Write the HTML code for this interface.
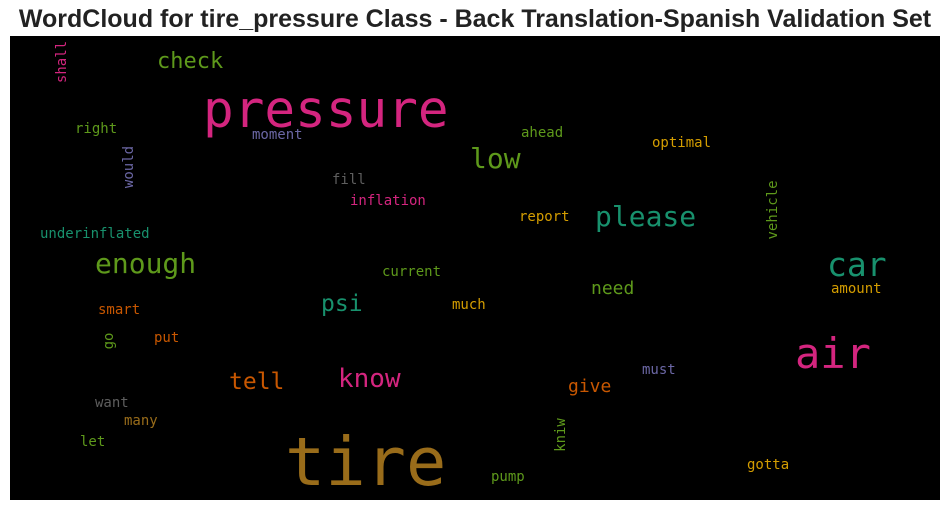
<!DOCTYPE html>
<html><head><meta charset="utf-8"><style>
html,body{margin:0;padding:0;background:#fff;width:950px;height:511px;overflow:hidden}
svg{display:block}
text.w{font-family:"DejaVu Sans Mono","Liberation Mono",monospace}
</style></head><body>
<svg width="950" height="511">
<text x="475" y="27" text-anchor="middle" font-family="Liberation Sans, sans-serif" font-weight="bold" font-size="25" fill="#222">WordCloud for tire_pressure Class - Back Translation-Spanish Validation Set</text>
<rect x="10" y="36" width="930" height="464" fill="#000"/>
<g id="words" opacity="0.92"></g>
</svg>
<script>
const words=["pressure","tire","air","car","please","low","enough","check","know","tell","psi","need","give","right","moment","fill","inflation","report","ahead","optimal","underinflated","current","much","amount","smart","put","must","want","many","let","pump","gotta","shall","would","vehicle","go","kniw"];
const sizes=[51,67,42,33,28,28,28,22,26,23,23,18,18,14,14,14,14,14,14,14,14,14,14,14,14,14,14,14,14,14,14,14,14,14,14,14,14];
const colors=["#e7298a","#a6761d","#e7298a","#1b9e77","#1b9e77","#66a61e","#66a61e","#66a61e","#e7298a","#d95f02","#1b9e77","#66a61e","#d95f02","#66a61e","#7570b3","#666666","#e7298a","#e6ab02","#66a61e","#e6ab02","#1b9e77","#66a61e","#e6ab02","#e6ab02","#d95f02","#d95f02","#7570b3","#666666","#a6761d","#66a61e","#66a61e","#e6ab02","#e7298a","#7570b3","#66a61e","#66a61e","#66a61e"];
const xs=[203,285,795,827,595,470,95,157,338,229,321,591,568,75,252,332,350,519,521,652,40,382,452,831,98,154,642,95,124,80,491,747,66,133,777,113,565];
const ys=[127,485,368,276,226,168,273,68,387,389,311,294,392,133,139,184,205,221,137,147,238,276,309,293,314,342,374,407,425,446,481,469,62,167,210,341,435];
const rot=[0,0,0,0,0,0,0,0,0,0,0,0,0,0,0,0,0,0,0,0,0,0,0,0,0,0,0,0,0,0,0,0,1,1,1,1,1];
const g=document.getElementById('words');
words.forEach((w,i)=>{
  const t=document.createElementNS('http://www.w3.org/2000/svg','text');
  t.setAttribute('class','w');
  t.setAttribute('font-size',sizes[i]);
  t.setAttribute('fill',colors[i]);
  if(rot[i]){t.setAttribute('text-anchor','middle');t.setAttribute('transform','translate('+xs[i]+','+ys[i]+') rotate(-90)');}
  else{t.setAttribute('x',xs[i]);t.setAttribute('y',ys[i]);}
  t.textContent=w;
  
  
  g.appendChild(t);
});
</script>
</body></html>
